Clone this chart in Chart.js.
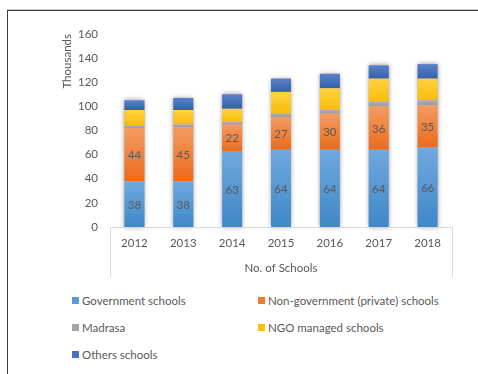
<!DOCTYPE html>
<html>
<head>
<meta charset="utf-8">
<script src="https://cdn.jsdelivr.net/npm/chart.js@4.4.1/dist/chart.umd.min.js"></script>
<style>
  body { margin: 0; background: #fff; width: 478px; height: 374px; overflow: hidden; position: relative; font-family: Lato, sans-serif; }
  #frame { position: absolute; left: 7px; top: 9px; width: 480px; height: 400px; border-top: 1px solid #c8c8c8; }
  #frame:before { content: ''; position: absolute; left: 0; top: 0; right: 0; bottom: 0; border-top: 1px solid #3a3a3a; border-left: 1px solid #3a3a3a; }
  #wrap { position: absolute; left: 9px; top: 11px; width: 469px; height: 275px; }
  #legend { position: absolute; left: 72px; top: 293px; width: 400px; display: grid; grid-template-columns: 186px 210px; row-gap: 13px; font-size: 11.5px; color: #595959; }
  #legend div { display: flex; align-items: center; height: 14px; white-space: nowrap; }
  #legend span { display: inline-block; width: 7px; height: 7px; margin-right: 3px; }
</style>
</head>
<body>
<div id="frame"></div>
<div id="wrap"><canvas id="schoolsChart"></canvas></div>
<div id="legend"></div>
<script>
const years = ['2012', '2013', '2014', '2015', '2016', '2017', '2018'];
const governmentSchools = [38, 38, 63, 64, 64, 64, 66];
const privateSchools = [44, 45, 22, 27, 30, 36, 35];
const madrasa = [2, 2, 2, 3, 3, 4, 4];
const ngoSchools = [13, 12, 11, 18, 18, 19, 18];
const otherSchools = [8, 10, 12, 11, 12, 11, 12];
const yTicks = [0, 20, 40, 60, 80, 100, 120, 140, 160];

// name, legend colour, gradient top, gradient bottom
const series = [
    { name: 'Government schools', data: governmentSchools, color: '#5b9bd5', top: '#70a9de', bottom: '#3f87c8' },
    { name: 'Non-government (private) schools', data: privateSchools, color: '#ed7d31', top: '#f39c62', bottom: '#eb6b1a' },
    { name: 'Madrasa', data: madrasa, color: '#a5a5a5', top: '#b0b0b0', bottom: '#9a9a9a' },
    { name: 'NGO managed schools', data: ngoSchools, color: '#ffc000', top: '#ffd23f', bottom: '#f9bd0a' },
    { name: 'Others schools', data: otherSchools, color: '#4472c4', top: '#5a80c8', bottom: '#3361ae' }
];

function segmentGradient(c) {
    const s = series[c.datasetIndex];
    if (c.type !== 'data') return s.color;
    const chart = c.chart;
    const y = chart.scales.y;
    if (!y || !chart.chartArea) return s.color;
    let start = 0;
    for (let k = 0; k < c.datasetIndex; k++) start += series[k].data[c.dataIndex];
    const end = start + s.data[c.dataIndex];
    const g = chart.ctx.createLinearGradient(0, y.getPixelForValue(end), 0, y.getPixelForValue(start));
    g.addColorStop(0, s.top);
    g.addColorStop(1, s.bottom);
    return g;
}

// soft halo under each whole stack
const stackShadow = {
    id: 'stackShadow',
    beforeDatasetsDraw(chart) {
        const ctx = chart.ctx;
        const meta = chart.getDatasetMeta(0);
        const y = chart.scales.y;
        ctx.save();
        ctx.shadowColor = 'rgba(0,0,0,0.45)';
        ctx.shadowBlur = 5;
        ctx.fillStyle = '#bdbdbd';
        meta.data.forEach((bar, i) => {
            const total = series.reduce((a, s) => a + s.data[i], 0);
            const top = y.getPixelForValue(total);
            const bottom = y.getPixelForValue(0);
            ctx.fillRect(bar.x - bar.width / 2, top, bar.width, bottom - top);
        });
        ctx.restore();
    }
};

// value labels inside the first two series
const valueLabels = {
    id: 'valueLabels',
    afterDatasetsDraw(chart) {
        const ctx = chart.ctx;
        ctx.save();
        ctx.font = '11.5px Lato';
        ctx.fillStyle = '#595959';
        ctx.textAlign = 'center';
        ctx.textBaseline = 'middle';
        [0, 1].forEach(d => {
            chart.getDatasetMeta(d).data.forEach((bar, i) => {
                ctx.fillText(String(series[d].data[i]), bar.x, (bar.y + bar.base) / 2 + 1);
            });
        });
        ctx.restore();
    }
};

// box round the category labels
const categoryBox = {
    id: 'categoryBox',
    afterDraw(chart) {
        const ctx = chart.ctx;
        const a = chart.chartArea;
        const x = chart.scales.x;
        ctx.save();
        ctx.strokeStyle = '#d9d9d9';
        ctx.lineWidth = 1;
        ctx.beginPath();
        ctx.moveTo(Math.round(a.left) + 0.5, a.bottom);
        ctx.lineTo(Math.round(a.left) + 0.5, x.bottom);
        ctx.moveTo(Math.round(a.right) + 0.5, a.bottom);
        ctx.lineTo(Math.round(a.right) + 0.5, x.bottom);
        ctx.moveTo(a.left, Math.round(a.bottom) + 0.5);
        ctx.lineTo(a.right, Math.round(a.bottom) + 0.5);
        ctx.stroke();
        ctx.restore();
    }
};

const ctx = document.getElementById('schoolsChart').getContext('2d');
new Chart(ctx, {
    type: 'bar',
    data: {
        labels: years,
        datasets: series.map(s => ({
            label: s.name,
            data: s.data,
            backgroundColor: segmentGradient,
            borderWidth: 0,
            categoryPercentage: 1,
            barPercentage: 0.41
        }))
    },
    options: {
        responsive: true,
        maintainAspectRatio: false,
        animation: false,
        layout: { padding: { top: 23, right: 26, bottom: 9, left: 0 } },
        scales: {
            x: {
                stacked: true,
                grid: { display: false, drawTicks: false },
                border: { display: false },
                ticks: { color: '#595959', font: { family: 'Lato', size: 11.5 }, padding: 9, maxRotation: 0 },
                title: { display: true, text: 'No. of Schools', color: '#595959', font: { family: 'Lato', size: 11.5 }, padding: { top: 0, bottom: 2 } },
                afterFit: scale => { scale.height = 50; }
            },
            y: {
                stacked: true,
                min: 0,
                max: 160,
                afterBuildTicks: scale => { scale.ticks = yTicks.map(v => ({ value: v })); },
                grid: { display: false, drawTicks: false },
                border: { display: false },
                ticks: { color: '#595959', font: { family: 'Lato', size: 11.5 }, padding: 12 },
                title: { display: true, text: 'Thousands', align: 'end', color: '#595959', font: { family: 'Lato', size: 11.5 }, padding: { top: 51, bottom: 0 } },
                afterFit: scale => { scale.width = 101; }
            }
        },
        plugins: {
            legend: { display: false },
            tooltip: { enabled: false }
        }
    },
    plugins: [stackShadow, valueLabels, categoryBox]
});

const legend = document.getElementById('legend');
series.forEach(s => {
    const item = document.createElement('div');
    item.innerHTML = '<span style="background:' + s.color + '"></span>' + s.name;
    legend.appendChild(item);
});
</script>
</body>
</html>
